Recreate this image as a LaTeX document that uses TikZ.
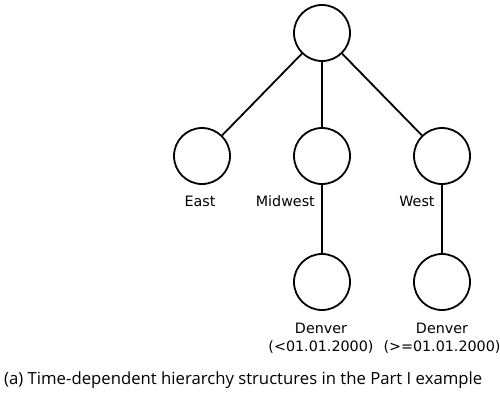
\documentclass[tikz,border=0pt]{standalone}
\usepackage{fontspec}
\usepackage{graphicx}
\setmainfont{DejaVu Sans}
\newfontfamily\capfont{Open Sans}
\begin{document}
\begin{tikzpicture}[x=1pt,y=-1pt,
  vnode/.style={circle,draw,line width=1.8pt,minimum size=56pt,inner sep=0pt},
  conn/.style={line width=1.8pt},
  lbl/.style={font=\fontsize{14.3}{18.5}\selectfont,inner sep=0pt,align=center}]
\useasboundingbox (0,0) rectangle (500,400);
\node[vnode] (top) at (322,33) {};
\node[vnode] (east) at (202,156) {};
\node[vnode] (mid) at (322,156) {};
\node[vnode] (west) at (442,156) {};
\node[vnode] (den1) at (322,282) {};
\node[vnode] (den2) at (442,282) {};
\draw[conn] (top) -- (east);
\draw[conn] (top) -- (mid);
\draw[conn] (top) -- (west);
\draw[conn] (mid) -- (den1);
\draw[conn] (west) -- (den2);
\node[lbl] (least) at (200,201) {East};
\node[lbl,anchor=east] (lmid) at (315,201) {Midwest};
\node[lbl] (lwest) at (417,201) {West};
\node[lbl] (lden1) at (321,338) {Denver\\(<01.01.2000)};
\node[lbl] (lden2) at (442,338) {Denver\\(>=01.01.2000)};
\node[anchor=west,inner sep=0pt] (cap) at (4,380) {\resizebox{478pt}{!}{\capfont\fontsize{17}{20}\selectfont (a) Time-dependent hierarchy structures in the Part I example}};
\end{tikzpicture}
\end{document}
